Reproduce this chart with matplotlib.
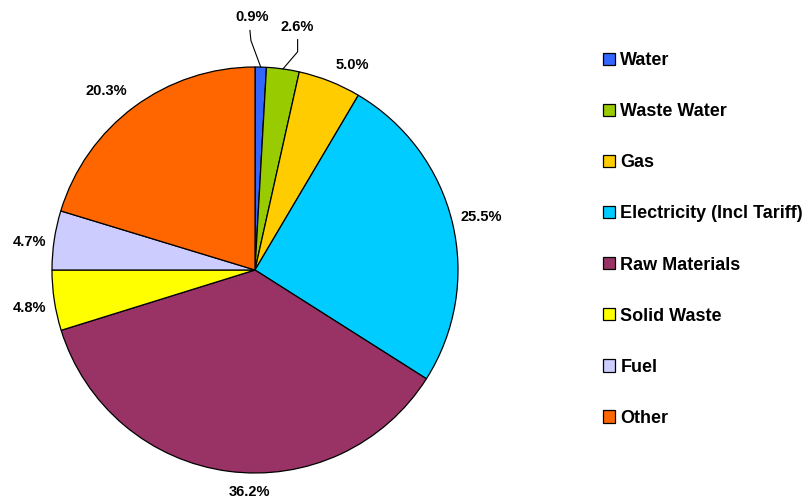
import matplotlib
matplotlib.use("Agg")
import matplotlib.pyplot as plt
import numpy as np

# cost breakdown (percent of total)
categories = ["Water", "Waste Water", "Gas", "Electricity (Incl Tariff)",
              "Raw Materials", "Solid Waste", "Fuel", "Other"]
shares = [0.9, 2.6, 5.0, 25.5, 36.2, 4.8, 4.7, 20.3]
colors = ["#3366FF", "#99CC00", "#FFCC00", "#00CCFF",
          "#993366", "#FFFF00", "#CCCCFF", "#FF6600"]

# where excel put the percent labels, in units of pie radius from the centre
label_pos = [(-0.015, 1.245), (0.207, 1.197), (0.478, 1.012), (1.113, 0.262),
             (-0.025, -1.093), (-1.113, -0.185), (-1.113, 0.140), (-0.734, 0.884)]
# bent leader lines for the two thin slices (start, elbow)
leaders = {0: [(-0.025, 1.18), (-0.02, 1.13)],
           1: [(0.21, 1.135), (0.21, 1.075)]}

plt.rcParams['font.family'] = ['Liberation Sans', 'DejaVu Sans']
plt.rcParams['font.weight'] = 'bold'

fig = plt.figure(figsize=(8.04, 5.0), dpi=100)
ax = fig.add_axes([0, 0, 1, 1])

cx, cy, R = 255, 230, 203
wedges, _ = ax.pie(shares, colors=colors, startangle=90, counterclock=False,
                   center=(cx, cy), radius=R,
                   wedgeprops=dict(edgecolor='black', linewidth=0.9))

ax.set_xlim(0, 804)
ax.set_ylim(0, 500)
ax.set_aspect('equal')
ax.axis('off')

for i, (w, v) in enumerate(zip(wedges, shares)):
    px, py = label_pos[i]
    ax.text(cx + px * R, cy + py * R, f"{v:.1f}%", ha='center', va='center',
            fontsize=10.5, fontweight='bold')
    if i in leaders:
        mid = np.deg2rad((w.theta1 + w.theta2) / 2)
        pts = leaders[i] + [(np.cos(mid), np.sin(mid))]
        xs = [cx + p[0] * R for p in pts]
        ys = [cy + p[1] * R for p in pts]
        ax.plot(xs, ys, color='black', lw=0.8)

leg = ax.legend(wedges, categories, loc='upper left', bbox_to_anchor=(595.5 / 804, 1 - 45 / 500),
                frameon=False, fontsize=13, handlelength=0.68, handleheight=0.68,
                handletextpad=0.3, labelspacing=1.887, borderaxespad=0)
for t in leg.get_texts():
    t.set_fontweight('bold')

fig.savefig("out.png", dpi=100)
